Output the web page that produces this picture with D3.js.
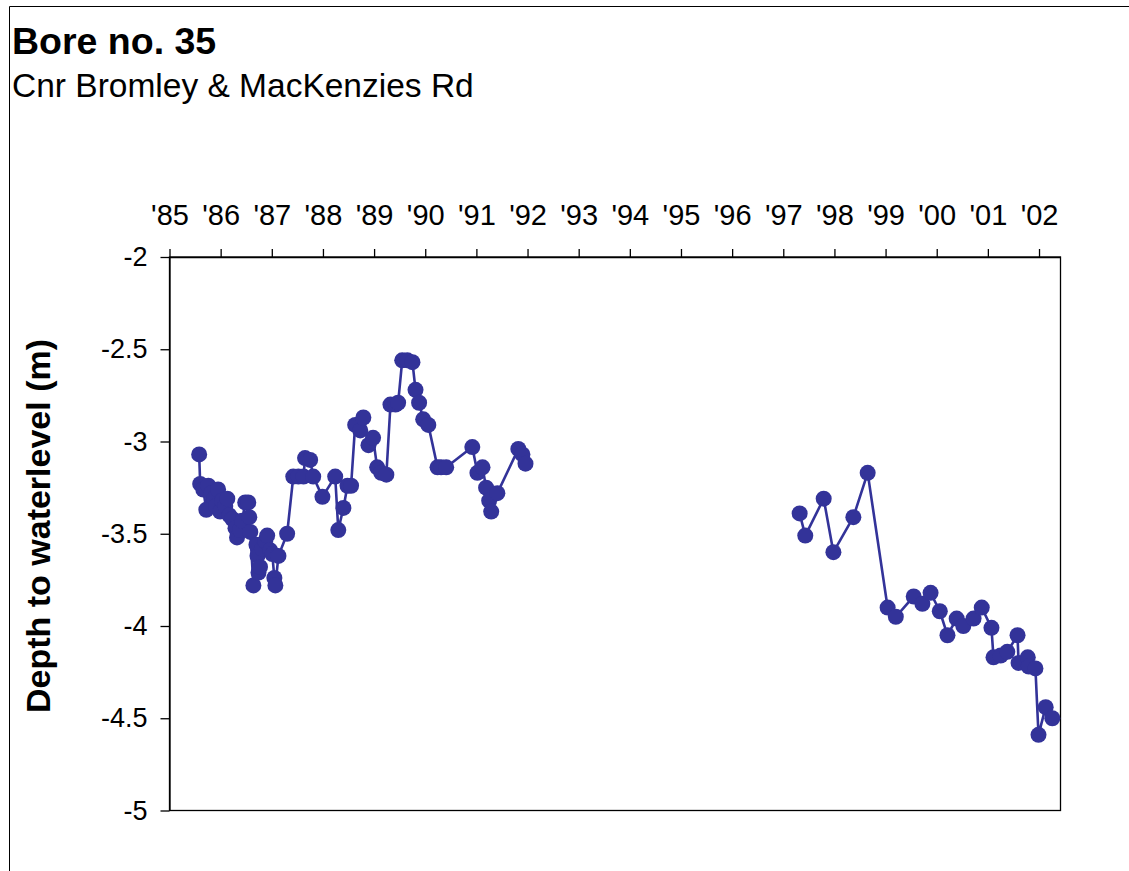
<!DOCTYPE html>
<html>
<head>
<meta charset="utf-8">
<script src="https://cdn.jsdelivr.net/npm/d3@7"></script>
<style>
  html, body { margin: 0; padding: 0; background: #fff; }
  svg { display: block; font-family: "Liberation Sans", Arial, sans-serif; }
</style>
</head>
<body>
<svg id="chart" width="1129" height="871"></svg>
<script>
// ---- Data ----
const title = "Bore no. 35";
const subtitle = "Cnr Bromley & MacKenzies Rd";
const yAxisLabel = "Depth to waterlevel (m)";

const yearTicks = [1985, 1986, 1987, 1988, 1989, 1990, 1991, 1992, 1993, 1994, 1995, 1996, 1997, 1998, 1999, 2000, 2001, 2002];
const yearTickLabels = ["'85", "'86", "'87", "'88", "'89", "'90", "'91", "'92", "'93", "'94", "'95", "'96", "'97", "'98", "'99", "'00", "'01", "'02"];
const depthTicks = [-2, -2.5, -3, -3.5, -4, -4.5, -5];

// first monitoring period (1985 - 1992)
const years1 = [1985.58, 1985.60, 1985.66, 1985.72, 1985.76, 1985.82, 1985.87, 1985.91, 1985.95, 1985.99,
  1986.03, 1986.09, 1986.13, 1986.17, 1986.23, 1986.29, 1986.32, 1986.38, 1986.42, 1986.48,
  1986.54, 1986.56, 1986.58, 1986.64, 1986.70, 1986.72, 1986.74, 1986.77, 1986.81, 1986.87,
  1986.91, 1986.97, 1987.01, 1987.05, 1987.07, 1987.13, 1987.30, 1987.42, 1987.52, 1987.62,
  1987.65, 1987.75, 1987.81, 1987.99, 1988.24, 1988.30, 1988.40, 1988.48, 1988.55, 1988.63,
  1988.73, 1988.79, 1988.89, 1988.98, 1989.06, 1989.14, 1989.24, 1989.32, 1989.42, 1989.47,
  1989.55, 1989.65, 1989.75, 1989.81, 1989.88, 1989.96, 1990.06, 1990.24, 1990.31, 1990.41,
  1990.92, 1991.02, 1991.12, 1991.19, 1991.25, 1991.29, 1991.41, 1991.82, 1991.90, 1991.96];
const depth1 = [-3.07, -3.23, -3.26, -3.37, -3.24, -3.28, -3.31, -3.35, -3.26, -3.38,
  -3.32, -3.35, -3.31, -3.40, -3.42, -3.47, -3.52, -3.48, -3.43, -3.33,
  -3.33, -3.41, -3.49, -3.78, -3.56, -3.62, -3.71, -3.68, -3.58, -3.54,
  -3.51, -3.59, -3.61, -3.74, -3.78, -3.62, -3.50, -3.19, -3.19, -3.19,
  -3.09, -3.10, -3.19, -3.30, -3.19, -3.48, -3.36, -3.24, -3.24, -2.91,
  -2.94, -2.87, -3.02, -2.98, -3.14, -3.17, -3.18, -2.80, -2.80, -2.79,
  -2.56, -2.56, -2.57, -2.72, -2.79, -2.88, -2.91, -3.14, -3.14, -3.14,
  -3.03, -3.17, -3.14, -3.25, -3.32, -3.38, -3.28, -3.04, -3.07, -3.12];

// second monitoring period (1997 - 2002)
const years2 = [1997.32, 1997.43, 1997.79, 1997.98, 1998.37, 1998.65, 1999.04, 1999.20, 1999.55, 1999.72,
  1999.88, 2000.06, 2000.21, 2000.39, 2000.52, 2000.72, 2000.88, 2001.07, 2001.11, 2001.25,
  2001.38, 2001.58, 2001.60, 2001.78, 2001.80, 2001.93, 2001.99, 2002.13, 2002.26];
const depth2 = [-3.39, -3.51, -3.31, -3.60, -3.41, -3.17, -3.90, -3.95, -3.84, -3.88,
  -3.82, -3.92, -4.05, -3.96, -4.00, -3.96, -3.90, -4.01, -4.17, -4.16,
  -4.14, -4.05, -4.20, -4.17, -4.22, -4.23, -4.59, -4.44, -4.50];

// ---- Drawing ----
const color = "#333399";
const svg = d3.select("#chart");

const plot = { left: 169.5, right: 1060.5, top: 257, bottom: 810.5 };

const x = d3.scaleLinear().domain([1985, 2002.42]).range([plot.left, plot.right]);
const y = d3.scaleLinear().domain([-2, -5]).range([plot.top, plot.bottom]);

// outer chart frame (cropped)
svg.append("path")
  .attr("d", "M9.5,880 V6.5 H1140")
  .attr("fill", "none").attr("stroke", "#000").attr("stroke-width", 1);

// titles
svg.append("text").attr("x", 12).attr("y", 54)
  .attr("font-size", 37.5).attr("font-weight", "bold").attr("fill", "#000").text(title);
svg.append("text").attr("x", 12).attr("y", 97)
  .attr("font-size", 33.5).attr("fill", "#000").text(subtitle);

// plot frame
svg.append("rect")
  .attr("x", plot.left).attr("y", plot.top)
  .attr("width", plot.right - plot.left).attr("height", plot.bottom - plot.top)
  .attr("fill", "none").attr("stroke", "#000").attr("stroke-width", 1.3);

// top axis
const xAxis = d3.axisTop(x)
  .tickValues(yearTicks)
  .tickFormat((d, i) => yearTickLabels[i])
  .tickSizeInner(8).tickSizeOuter(0).tickPadding(24);
const gx = svg.append("g").attr("transform", `translate(0,${plot.top})`).call(xAxis);
gx.select(".domain").attr("stroke", "#000").attr("stroke-width", 1.3);
gx.selectAll(".tick line").attr("stroke", "#000").attr("stroke-width", 1.3);
gx.selectAll(".tick text").attr("font-size", 29).attr("fill", "#000")
  .attr("font-family", "'Liberation Sans', Arial, sans-serif");

// left axis
const yAxis = d3.axisLeft(y)
  .tickValues(depthTicks)
  .tickFormat(d => String(d))
  .tickSizeInner(9).tickSizeOuter(0).tickPadding(13);
const gy = svg.append("g").attr("transform", `translate(${plot.left},0)`).call(yAxis);
gy.select(".domain").attr("stroke", "#000").attr("stroke-width", 1.3);
gy.selectAll(".tick line").attr("stroke", "#000").attr("stroke-width", 1.3);
gy.selectAll(".tick text").attr("font-size", 27).attr("fill", "#000")
  .attr("font-family", "'Liberation Sans', Arial, sans-serif");

// y axis title
svg.append("text")
  .attr("transform", `translate(50,526) rotate(-90)`)
  .attr("text-anchor", "middle")
  .attr("font-size", 34).attr("font-weight", "bold").attr("fill", "#000")
  .text(yAxisLabel);

// series
const seg1 = years1.map((t, i) => ({ t, v: depth1[i] }));
const seg2 = years2.map((t, i) => ({ t, v: depth2[i] }));
const line = d3.line().x(d => x(d.t)).y(d => y(d.v));

[seg1, seg2].forEach(seg => {
  svg.append("path").datum(seg)
    .attr("d", line)
    .attr("fill", "none").attr("stroke", color).attr("stroke-width", 2.6)
    .attr("stroke-linejoin", "round");
});
[seg1, seg2].forEach(seg => {
  svg.append("g").selectAll("circle").data(seg).join("circle")
    .attr("cx", d => x(d.t)).attr("cy", d => y(d.v)).attr("r", 8)
    .attr("fill", color);
});
</script>
</body>
</html>
